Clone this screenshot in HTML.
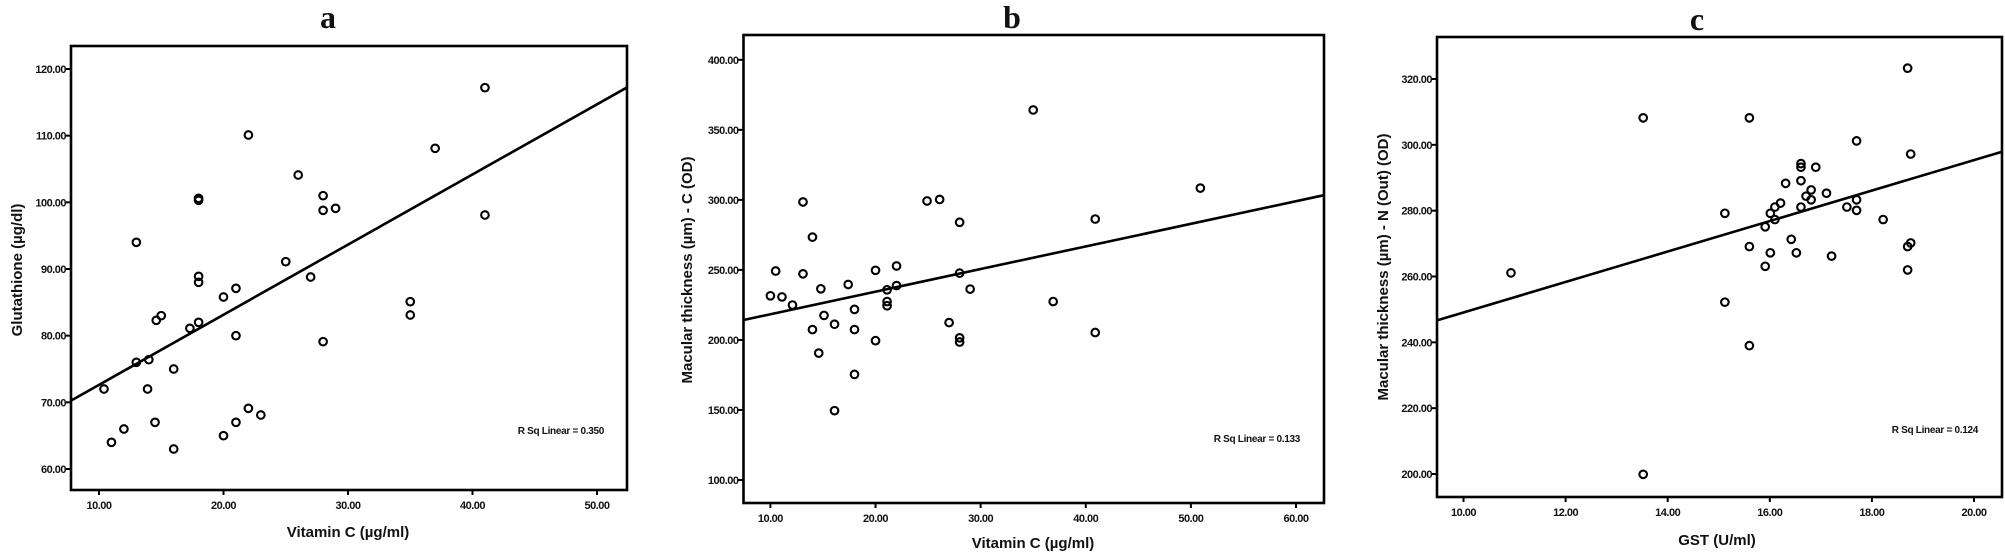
<!DOCTYPE html>
<html><head><meta charset="utf-8"><style>
html,body{margin:0;padding:0;background:#fff;}
svg{display:block;}
text{font-family:"Liberation Sans",sans-serif;}
.tick{font-size:11px;font-weight:bold;fill:#111;letter-spacing:-0.5px;}
.axt{font-size:15px;font-weight:bold;fill:#111;}
.ttl{font-family:"Liberation Serif",serif;font-size:32px;font-weight:bold;fill:#111;}
.rsq{font-size:10px;font-weight:bold;fill:#111;letter-spacing:-0.3px;}
</style></head><body>
<svg id="fig" width="2005" height="556" viewBox="0 0 2005 556" xmlns="http://www.w3.org/2000/svg"></svg>
<script>
// Panel a data
const aX = [10.4,11.0,12.0,13.0,13.0,13.9,14.0,14.5,14.6,15.0,16.0,16.0,17.3,18.0,18.0,18.0,18.0,18.0,20.0,20.0,21.0,21.0,21.0,22.0,22.0,23.0,25.0,26.0,27.0,28.0,28.0,29.0,28.0,35.0,35.0,37.0,41.0,41.0];
const aY = [72.0,64.0,66.0,94.0,76.0,72.0,76.4,67.0,82.3,83.0,75.0,63.0,81.1,100.3,100.6,88.9,88.0,82.0,85.8,65.0,87.1,80.0,67.0,110.1,69.1,68.1,91.1,104.1,88.8,101.0,98.8,99.1,79.1,85.1,83.1,108.1,117.2,98.1];
const aXTicks = ["10.00","20.00","30.00","40.00","50.00"];
const aXTickVals = [10,20,30,40,50];
const aYTicks = ["60.00","70.00","80.00","90.00","100.00","110.00","120.00"];
const aYTickVals = [60,70,80,90,100,110,120];
const aFit = [62.1,1.052]; // intercept, slope
// Panel b data
const bX = [10.0,10.5,11.1,12.1,13.1,13.1,14.0,14.0,14.6,14.8,15.1,16.1,16.1,17.4,18.0,18.0,18.0,20.0,20.0,21.1,21.1,21.1,22.0,22.0,24.9,26.1,27.0,28.0,28.0,28.0,28.0,29.0,35.0,36.9,40.9,40.9,50.9];
const bY = [231.5,249.2,230.7,224.9,298.5,247.2,273.4,207.4,190.6,236.5,217.5,211.2,149.5,239.6,221.8,207.4,175.4,249.7,199.5,235.8,227.4,224.4,252.8,238.8,299.2,300.3,212.4,284.0,247.7,201.5,198.5,236.3,364.2,227.4,286.3,205.3,308.4];
const bXTicks = ["10.00","20.00","30.00","40.00","50.00","60.00"];
const bXTickVals = [10,20,30,40,50,60];
const bYTicks = ["100.00","150.00","200.00","250.00","300.00","350.00","400.00"];
const bYTickVals = [100,150,200,250,300,350,400];
const bFit = [202.2,1.614];
// Panel c data
const cX = [10.93,13.52,13.52,15.12,15.12,15.60,15.60,15.60,15.91,15.91,16.01,16.01,16.10,16.10,16.21,16.31,16.42,16.52,16.61,16.61,16.61,16.61,16.71,16.81,16.81,16.90,17.11,17.21,17.51,17.70,17.70,17.70,18.22,18.70,18.70,18.70,18.76,18.76];
const cY = [261.1,308.2,199.9,279.2,252.2,308.2,269.1,239.0,275.1,263.1,279.2,267.2,281.1,277.3,282.3,288.3,271.3,267.2,294.3,293.2,289.1,281.1,284.4,286.3,283.3,293.2,285.3,266.2,281.1,301.2,283.3,280.1,277.3,323.3,269.1,262.0,297.2,270.2];
const cXTicks = ["10.00","12.00","14.00","16.00","18.00","20.00"];
const cXTickVals = [10,12,14,16,18,20];
const cYTicks = ["200.00","220.00","240.00","260.00","280.00","300.00","320.00"];
const cYTickVals = [200,220,240,260,280,300,320];
const cFit = [202.8,4.628];

const NS="http://www.w3.org/2000/svg";
const svg=document.getElementById('fig');
function mk(tag,attrs,parent){const e=document.createElementNS(NS,tag);for(const k in attrs)e.setAttribute(k,attrs[k]);(parent||svg).appendChild(e);return e;}

function panel(id,g,xs,ys,xtl,xtv,ytl,ytv,fit,title,xTitle,yTitle,rsq){
  const grp=mk('g',{});
  
  
  const sx=v=>g.x0+(v-g.xv0)*(g.x1-g.x0)/(g.xv1-g.xv0);
  const sy=v=>g.y0+(v-g.yv0)*(g.y1-g.y0)/(g.yv1-g.yv0);
  const t=mk('text',{x:g.tx,y:g.ty,'text-anchor':'middle',class:'ttl'},grp);t.textContent=title;
  
  
  const box=mk('rect',{x:g.L,y:g.T,width:g.R-g.L,height:g.B-g.T,fill:'none',stroke:'#000','stroke-width':2.6},grp);
  
  
  xtv.forEach((v,i)=>{const x=sx(v);
    const l=mk('line',{x1:x,x2:x,y1:g.B,y2:g.B+5,stroke:'#000','stroke-width':2},grp);
    
    
    const tx=mk('text',{x:x,y:g.B+19,'text-anchor':'middle',class:'tick'},grp);tx.textContent=xtl[i];
    
    });
  ytv.forEach((v,i)=>{const y=sy(v);
    const l=mk('line',{x1:g.L-5,x2:g.L,y1:y,y2:y,stroke:'#000','stroke-width':2},grp);
    
    
    const tx=mk('text',{x:g.L-5,y:y+4,'text-anchor':'end',class:'tick'},grp);tx.textContent=ytl[i];
    
    });
  const xt=mk('text',{x:g.xtx,y:g.xty,'text-anchor':'middle',class:'axt'},grp);xt.textContent=xTitle;
  
  
  const yt=mk('text',{x:0,y:0,'text-anchor':'middle',class:'axt',transform:`translate(${g.ytx},${g.yty}) rotate(-90)`},grp);yt.textContent=yTitle;
  
  
  // fit line clipped to frame x-range
  const xa=(g.L-g.x0)*(g.xv1-g.xv0)/(g.x1-g.x0)+g.xv0, xb=(g.R-g.x0)*(g.xv1-g.xv0)/(g.x1-g.x0)+g.xv0;
  const fl=mk('line',{x1:g.L,y1:sy(fit[0]+fit[1]*xa),x2:g.R,y2:sy(fit[0]+fit[1]*xb),stroke:'#000','stroke-width':2.6},grp);
  
  
  xs.forEach((v,i)=>{
    const c=mk('circle',{cx:sx(v),cy:sy(ys[i]),r:3.8,fill:'none',stroke:'#000','stroke-width':2.1},grp);
    
    
  });
  const r=mk('text',{x:g.rx,y:g.ry,'text-anchor':'end',class:'rsq'},grp);r.textContent=rsq;
  
  
}
panel('a',{L:71,R:627,T:46,B:490,x0:99,x1:597,xv0:10,xv1:50,y0:469,y1:69,yv0:60,yv1:120,tx:328,ty:28,xtx:348,xty:537,ytx:22,yty:270,rx:604,ry:434},
  aX,aY,aXTicks,aXTickVals,aYTicks,aYTickVals,aFit,'a','Vitamin C (µg/ml)','Glutathione (µg/dl)','R Sq Linear = 0.350');
panel('b',{L:743.5,R:1324,T:35,B:503,x0:770.4,x1:1296,xv0:10,xv1:60,y0:480,y1:59.8,yv0:100,yv1:400,tx:1012,ty:28,xtx:1033,xty:548,ytx:692,yty:270,rx:1300,ry:442},
  bX,bY,bXTicks,bXTickVals,bYTicks,bYTickVals,bFit,'b','Vitamin C (µg/ml)','Macular thickness (µm) - C (OD)','R Sq Linear = 0.133');
panel('c',{L:1437,R:2002,T:37,B:497,x0:1463.5,x1:1974,xv0:10,xv1:20,y0:474,y1:79,yv0:200,yv1:320,tx:1697,ty:30,xtx:1717,xty:545,ytx:1388,yty:267,rx:1978,ry:433},
  cX,cY,cXTicks,cXTickVals,cYTicks,cYTickVals,cFit,'c','GST (U/ml)','Macular thickness (µm) - N (Out) (OD)','R Sq Linear = 0.124');
</script>
</body></html>
